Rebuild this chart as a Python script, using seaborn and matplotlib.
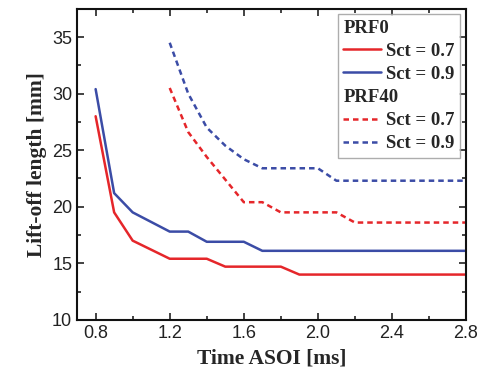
import numpy as np
import pandas as pd
import matplotlib
matplotlib.use("Agg")
import matplotlib.pyplot as plt
import seaborn as sns
from matplotlib.lines import Line2D
from matplotlib.ticker import MultipleLocator

# ---- data ----
t_prf0 = [0.8, 0.9, 1.0, 1.2, 1.3, 1.4, 1.5, 1.6, 1.7, 1.8, 1.9, 2.0, 2.2, 2.4, 2.6, 2.8]
prf0_sct07 = [28.0, 19.5, 17.0, 15.4, 15.4, 15.4, 14.7, 14.7, 14.7, 14.7, 14.0, 14.0, 14.0, 14.0, 14.0, 14.0]
prf0_sct09 = [30.4, 21.2, 19.5, 17.8, 17.8, 16.9, 16.9, 16.9, 16.1, 16.1, 16.1, 16.1, 16.1, 16.1, 16.1, 16.1]

t_prf40 = [1.2, 1.3, 1.4, 1.5, 1.6, 1.7, 1.8, 1.9, 2.0, 2.1, 2.2, 2.4, 2.6, 2.8]
prf40_sct07 = [30.5, 26.6, 24.4, 22.4, 20.4, 20.4, 19.5, 19.5, 19.5, 19.5, 18.6, 18.6, 18.6, 18.6]
prf40_sct09 = [34.5, 30.0, 27.0, 25.4, 24.2, 23.4, 23.4, 23.4, 23.4, 22.3, 22.3, 22.3, 22.3, 22.3]

x_ticks = [0.8, 1.2, 1.6, 2.0, 2.4, 2.8]
y_ticks = [10, 15, 20, 25, 30, 35]

frames = []
for t, v, prf, sct in [(t_prf0, prf0_sct07, "PRF0", "0.7"),
                       (t_prf0, prf0_sct09, "PRF0", "0.9"),
                       (t_prf40, prf40_sct07, "PRF40", "0.7"),
                       (t_prf40, prf40_sct09, "PRF40", "0.9")]:
    frames.append(pd.DataFrame({"t": t, "L": v, "PRF": prf, "Sct": sct}))
df = pd.concat(frames, ignore_index=True)

sns.set_style("ticks")
plt.rcParams["font.family"] = ["Liberation Sans", "DejaVu Sans"]

RED = "#e5262a"
BLUE = "#3b4ca6"

fig = plt.figure(figsize=(4.88, 3.83), dpi=100)
ax = fig.add_axes([0.158, 0.165, 0.797, 0.812])

sns.lineplot(data=df, x="t", y="L", hue="Sct", style="PRF",
             palette={"0.7": RED, "0.9": BLUE},
             dashes={"PRF0": "", "PRF40": (2.2, 1.6)},
             linewidth=1.8, ax=ax, legend=False, estimator=None, sort=False)

ax.set_xlim(0.7, 2.8)
ax.set_ylim(10, 37.5)
ax.set_xticks(x_ticks)
ax.set_xticklabels([f"{v:.1f}" for v in x_ticks])
ax.set_yticks(y_ticks)
ax.xaxis.set_minor_locator(MultipleLocator(0.2))
ax.yaxis.set_minor_locator(MultipleLocator(2.5))
ax.tick_params(which="both", direction="in", top=True, right=True, width=1.2,
               labelsize=13, colors="#222222")
ax.tick_params(which="major", length=5)
ax.tick_params(which="minor", length=3)
for s in ax.spines.values():
    s.set_linewidth(1.5)
    s.set_color("#111111")

serif = dict(family=["Liberation Serif", "DejaVu Serif"], weight="bold", size=15.5)
ax.set_xlabel("Time ASOI [ms]", fontdict=serif, labelpad=5)
ax.set_ylabel("Lift-off length [mm]", fontdict=serif, labelpad=4)

blank = Line2D([], [], color="none")
handles = [blank,
           Line2D([], [], color=RED, lw=1.8),
           Line2D([], [], color=BLUE, lw=1.8),
           blank,
           Line2D([], [], color=RED, lw=1.8, dashes=(2.2, 1.6)),
           Line2D([], [], color=BLUE, lw=1.8, dashes=(2.2, 1.6))]
labels = ["PRF0", "Sct = 0.7", "Sct = 0.9", "PRF40", "Sct = 0.7", "Sct = 0.9"]
leg = ax.legend(handles, labels, loc="upper right", bbox_to_anchor=(0.985, 0.982),
                prop={"family": ["Liberation Serif"], "weight": "bold", "size": 13.5},
                frameon=True, fancybox=False, edgecolor="#999999",
                handlelength=2.0, handletextpad=0.3, labelspacing=0.32,
                borderpad=0.28, borderaxespad=0)
leg.get_frame().set_linewidth(1.0)
# header entries: remove handle space
hbox = leg._legend_handle_box
rows = []
for col in hbox.get_children():
    rows.extend(col.get_children())
for i, row in enumerate(rows):
    if labels[i].startswith("PRF"):
        da = row.get_children()[0]
        da.width = 0
        row.sep = 0

fig.savefig("out.png", dpi=100)
